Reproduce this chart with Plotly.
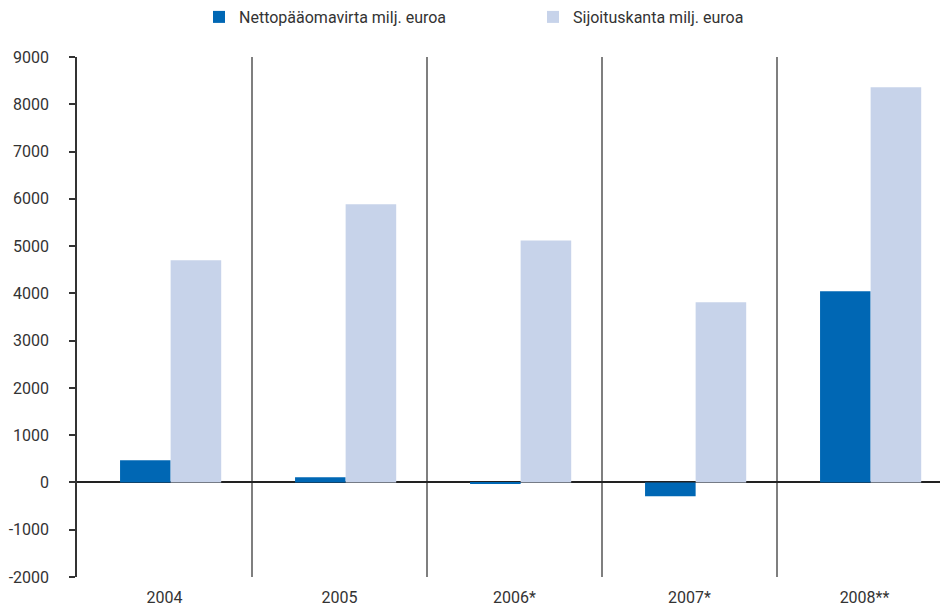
import plotly.graph_objects as go

years = ["2004", "2005", "2006*", "2007*", "2008**"]
netto = [470, 110, -35, -290, 4045]
kanta = [4700, 5885, 5120, 3810, 8360]
name_netto = "Nettopääomavirta milj. euroa"
name_kanta = "Sijoituskanta milj. euroa"
y_ticks = [-2000, -1000, 0, 1000, 2000, 3000, 4000, 5000, 6000, 7000, 8000, 9000]

# the page body has an 8px margin, so the figure is shrunk and shifted to match
BODY = 8
W, H = 948 - BODY, 607 - BODY
ML, MR, MT, MB = 77 - BODY, 0, 57 - BODY, 30
pw = W - ML - MR
ph = H - MT - MB

def px_to_paper(px):
    return (px - BODY - ML) / pw

def py_to_paper(py):
    return 1 + (MT - (py - BODY)) / ph

fig = go.Figure()
bw = 0.289
shift = 0.035
fig.add_trace(go.Bar(x=years, y=netto, name=name_netto, marker=dict(color="#0067B4", line=dict(width=0)),
                     width=bw, offset=-bw + shift, legend="legend"))
fig.add_trace(go.Bar(x=years, y=kanta, name=name_kanta, marker=dict(color="#C7D3EA", line=dict(width=0)),
                     width=bw, offset=shift, legend="legend2"))

font_main = "Roboto, Open Sans, sans-serif"
leg_font = dict(family=font_main, size=16, color="#333333")
fig.update_layout(
    width=W, height=H,
    margin=dict(l=ML, r=MR, t=MT, b=MB, pad=0, autoexpand=False),
    paper_bgcolor="white", plot_bgcolor="white",
    font=dict(family=font_main, size=16, color="#333333"),
    showlegend=True,
    legend=dict(orientation="h", x=px_to_paper(199), xanchor="left", y=py_to_paper(17),
                yanchor="middle", font=leg_font, bgcolor="rgba(0,0,0,0)", itemclick=False),
    legend2=dict(orientation="h", x=px_to_paper(533), xanchor="left", y=py_to_paper(17),
                 yanchor="middle", font=leg_font, bgcolor="rgba(0,0,0,0)", itemclick=False),
    xaxis=dict(
        type="category", range=[-0.5, -0.5 + pw / 175.0],
        showgrid=True, tickson="boundaries", gridcolor="#7f7f7f", gridwidth=1.5,
        ticks="", showline=False, zeroline=False,
        tickfont=dict(size=16, color="#333333"), ticklabelstandoff=9,
    ),
    yaxis=dict(
        range=[-2000, 9000], tickvals=y_ticks, ticktext=[str(v) for v in y_ticks],
        showgrid=False, zeroline=True, zerolinecolor="#222222", zerolinewidth=1.6,
        showline=True, linecolor="#333333", linewidth=1.5,
        ticks="outside", ticklen=6, tickcolor="#333333", tickwidth=1.5,
        tickfont=dict(size=16, color="#333333"), ticklabelstandoff=17,
    ),
)

fig.write_html("out.html")
